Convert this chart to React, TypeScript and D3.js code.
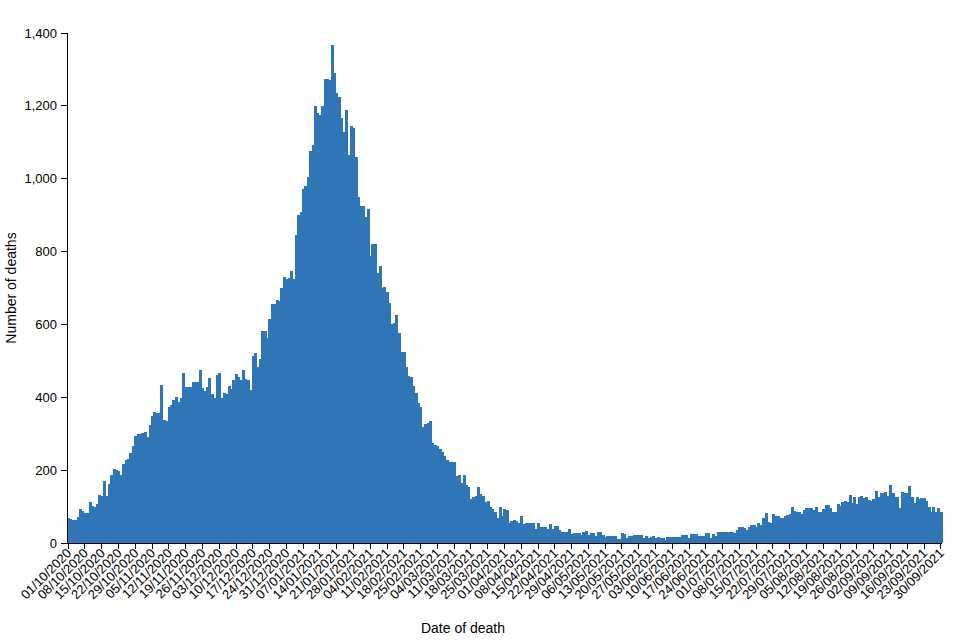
import React from 'react';
import * as d3 from 'd3';

const START_DATE = '2020-10-01';

const oct2020 = [70, 67, 64, 62, 72, 92, 89, 83, 81, 112, 101, 98, 107, 132, 129, 171, 129, 162, 187, 202, 200, 198, 187, 217, 228, 230, 246, 265, 294, 299, 299];
const nov2020 = [301, 306, 292, 325, 350, 360, 357, 357, 433, 339, 335, 373, 379, 392, 401, 388, 397, 466, 429, 427, 427, 443, 443, 443, 475, 425, 416, 429, 454, 410];
const dec2020 = [397, 460, 468, 397, 413, 409, 431, 423, 447, 464, 455, 447, 475, 449, 447, 421, 513, 522, 483, 506, 583, 583, 562, 614, 656, 656, 667, 665, 699, 731, 726];
const jan2021 = [727, 748, 725, 845, 900, 909, 971, 980, 1005, 1077, 1092, 1200, 1181, 1175, 1200, 1273, 1273, 1270, 1367, 1291, 1236, 1225, 1168, 1129, 1188, 1065, 1145, 1138, 1060, 951, 925];
const feb2021 = [925, 896, 916, 788, 820, 820, 740, 760, 700, 703, 690, 658, 600, 605, 626, 577, 525, 525, 484, 458, 455, 431, 411, 385, 374, 319, 327, 330];
const mar2021 = [336, 274, 270, 265, 258, 250, 238, 228, 222, 223, 222, 185, 188, 165, 186, 158, 155, 120, 125, 128, 155, 134, 130, 113, 116, 100, 92, 86, 70, 100, 74];
const apr2021 = [92, 90, 56, 60, 64, 61, 54, 74, 52, 54, 54, 54, 54, 38, 54, 45, 45, 43, 38, 52, 38, 47, 47, 36, 29, 31, 31, 38, 25, 27];
const may2021 = [27, 27, 22, 31, 33, 22, 27, 27, 20, 29, 29, 22, 17, 19, 19, 19, 19, 12, 12, 27, 24, 13, 19, 19, 22, 22, 22, 22, 15, 19, 13];
const jun2021 = [17, 19, 14, 16, 13, 13, 8, 17, 17, 17, 17, 17, 16, 22, 22, 22, 13, 25, 25, 25, 19, 19, 19, 28, 28, 13, 24, 19, 31, 31];
const jul2021 = [31, 31, 31, 31, 31, 28, 37, 45, 45, 40, 36, 43, 49, 49, 43, 54, 49, 70, 81, 59, 54, 79, 74, 74, 70, 70, 74, 77, 79, 100, 89];
const aug2021 = [86, 86, 79, 90, 95, 95, 95, 91, 98, 84, 86, 92, 104, 104, 95, 86, 86, 107, 101, 113, 116, 113, 132, 109, 125, 107, 125, 129, 123, 125, 118];
const sep2021 = [116, 120, 143, 127, 138, 138, 141, 129, 159, 138, 127, 127, 95, 141, 138, 138, 156, 127, 111, 127, 120, 123, 123, 116, 100, 86, 98, 86, 95, 86];

const monthlySeries = [oct2020, nov2020, dec2020, jan2021, feb2021, mar2021, apr2021, may2021, jun2021, jul2021, aug2021, sep2021];
const deaths: number[] = monthlySeries.flat();

const yTickValues = [0, 200, 400, 600, 800, 1000, 1200, 1400];
const tickEveryDays = 7;
const yTitle = 'Number of deaths';
const xTitle = 'Date of death';

export default function App() {
  const W = 960;
  const H = 640;
  const left = 67;
  const right = 942;
  const bottom = 543;
  const top = 33;
  const font = 'Liberation Sans, Arial, Helvetica, sans-serif';
  const barColor = '#3075b6';

  const start = d3.timeParse('%Y-%m-%d')(START_DATE) as Date;
  const dates = deaths.map((_, i) => d3.timeDay.offset(start, i));
  const fmt = d3.timeFormat('%d/%m/%Y');

  const x = d3.scaleBand<number>().domain(d3.range(deaths.length)).range([left, right]).padding(0);
  const y = d3.scaleLinear().domain([0, 1400]).range([bottom, top]);
  const bw = x.bandwidth();
  const tickIdx = d3.range(0, deaths.length, tickEveryDays);
  const yFmt = d3.format(',');

  return (
    <svg width={W} height={H} style={{ position: 'absolute', left: 0, top: 0, background: '#fff' }} fontFamily={font}>
      <g shapeRendering="crispEdges">
        {deaths.map((v, i) => (
          <rect key={i} x={x(i)!} y={y(v)} width={bw + 0.6} height={bottom - y(v)} fill={barColor} />
        ))}
      </g>
      {/* Y axis */}
      <line x1={left} x2={left} y1={top} y2={bottom} stroke="#000" strokeWidth={1} shapeRendering="crispEdges" />
      {yTickValues.map((t) => (
        <g key={t} transform={`translate(0,${y(t)})`}>
          <line x1={left - 6} x2={left} y1={0} y2={0} stroke="#000" shapeRendering="crispEdges" />
          <text x={left - 10} y={0} dy="0.35em" textAnchor="end" fontSize={13} fill="#000">
            {yFmt(t)}
          </text>
        </g>
      ))}
      {/* X axis */}
      <line x1={left} x2={right} y1={bottom} y2={bottom} stroke="#000" strokeWidth={1} shapeRendering="crispEdges" />
      {tickIdx.map((i) => {
        const cx = x(i)! + bw / 2;
        return (
          <g key={i}>
            <line x1={cx} x2={cx} y1={bottom} y2={bottom + 6} stroke="#000" shapeRendering="crispEdges" />
            <text
              transform={`translate(${cx + 4},${bottom + 11}) rotate(-45)`}
              textAnchor="end"
              fontSize={13}
              fill="#000"
            >
              {fmt(dates[i])}
            </text>
          </g>
        );
      })}
      <text transform={`translate(16,${(top + bottom) / 2}) rotate(-90)`} textAnchor="middle" fontSize={14} fill="#000">
        {yTitle}
      </text>
      <text x={463} y={633} textAnchor="middle" fontSize={14} fill="#000">
        {xTitle}
      </text>
    </svg>
  );
}
